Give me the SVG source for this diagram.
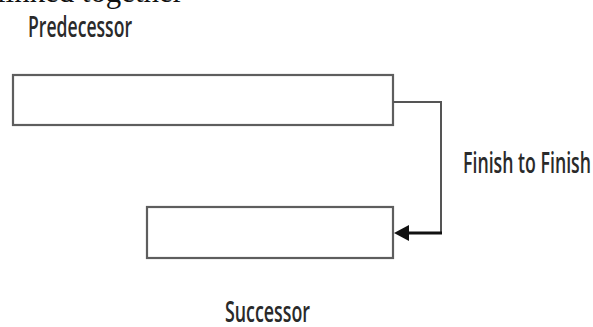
<svg xmlns="http://www.w3.org/2000/svg" width="593" height="327" viewBox="0 0 593 327">
<style>
.box{fill:#fff;stroke:#5e5e5e;stroke-width:2.2}
.lbl{font-family:"Open Sans","Liberation Sans",sans-serif;font-size:29px;font-weight:600;fill:#2a2a2a}
.conn{fill:none;stroke:#555;stroke-width:2}
</style>
<rect width="593" height="327" fill="#fff"/>
<text x="-3" y="1.5" font-family="Liberation Serif,serif" font-size="31" fill="#111" textLength="186" lengthAdjust="spacingAndGlyphs">linked together</text>
<g id="predecessor">
<text class="lbl" x="28" y="37" textLength="104" lengthAdjust="spacingAndGlyphs">Predecessor</text>
<rect class="box" x="13" y="75" width="380" height="50"/>
</g>
<g id="successor">
<rect class="box" x="147" y="207" width="246" height="51"/>
<text class="lbl" x="225" y="322" textLength="85" lengthAdjust="spacingAndGlyphs">Successor</text>
</g>
<g id="connectors">
<polyline class="conn" points="393,102 441,102 441,233"/>
<line x1="442" y1="233" x2="405" y2="233" stroke="#111" stroke-width="3"/>
<polygon points="394,233 409,225 409,241" fill="#111"/>
<text class="lbl" x="463" y="173" textLength="128" lengthAdjust="spacingAndGlyphs">Finish to Finish</text>
</g>
</svg>
